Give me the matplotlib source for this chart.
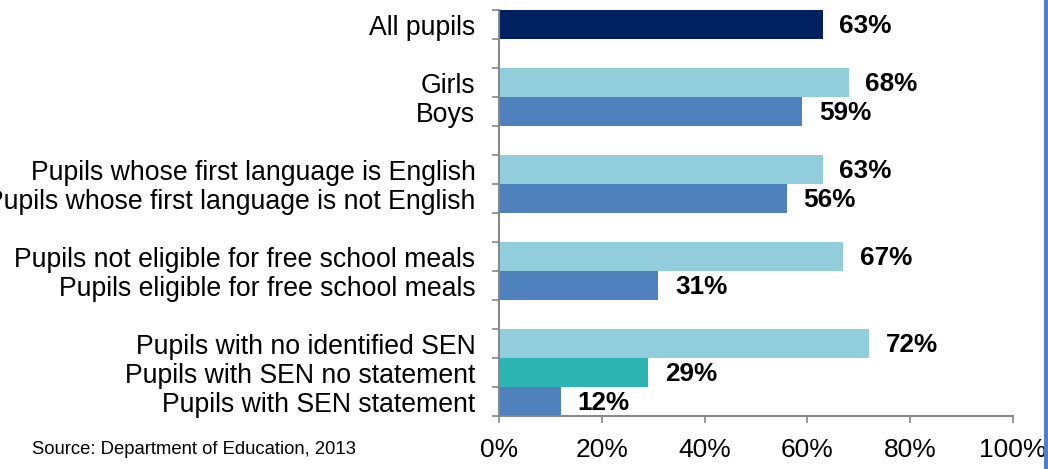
import matplotlib.pyplot as plt
from matplotlib.lines import Line2D

plt.rcParams["font.family"] = ["Liberation Sans", "DejaVu Sans"]

# -------------------- data --------------------
labels = ["All pupils", "",
          "Girls", "Boys", "",
          "Pupils whose first language is English",
          "Pupils whose first language is not English", "",
          "Pupils not eligible for free school meals",
          "Pupils eligible for free school meals", "",
          "Pupils with no identified SEN",
          "Pupils with SEN no statement",
          "Pupils with SEN statement"]
values = [63, None, 68, 59, None, 63, 56, None, 67, 31, None, 72, 29, 12]
colors = ["#00205F", None, "#92CDDC", "#4F81BD", None, "#92CDDC", "#4F81BD", None,
          "#92CDDC", "#4F81BD", None, "#92CDDC", "#2DB5B4", "#4F81BD"]
xticks = [0, 20, 40, 60, 80, 100]

AXIS_GREY = "#868686"

# -------------------- plot --------------------
fig = plt.figure(figsize=(10.48, 4.69), dpi=100)
ax = fig.add_axes([499 / 1048, 1 - 416 / 469, 514 / 1048, 406 / 469])

pos = list(range(len(labels)))
for y, v, c in zip(pos, values, colors):
    if v is None:
        continue
    ax.barh(y, v, height=1.0, color=c, edgecolor="none")
    ax.annotate(f"{v}%", xy=(v, y + 0.05), xytext=(12, 0), textcoords="offset points",
                ha="left", va="center", fontsize=18.8, fontweight="bold", color="black")

ax.set_xlim(0, 100)
ax.set_ylim(len(labels) - 0.5, -0.5)

# tick marks at slot boundaries, labels at slot centres
ax.set_yticks([i - 0.5 for i in range(len(labels) + 1)])
ax.set_yticklabels([])
ax.set_yticks(pos, minor=True)
ax.set_yticklabels(labels, minor=True, fontsize=19.2)
ax.tick_params(axis="y", which="major", length=5, width=1.2, color=AXIS_GREY, direction="out")
ax.tick_params(axis="y", which="minor", length=0, pad=17)

ax.set_xticks(xticks)
ax.set_xticklabels([f"{t}%" for t in xticks], fontsize=19)
ax.tick_params(axis="x", length=5, width=1.2, color=AXIS_GREY, direction="out", pad=11)

for side in ["top", "right"]:
    ax.spines[side].set_visible(False)
for side in ["left", "bottom"]:
    ax.spines[side].set_color(AXIS_GREY)
    ax.spines[side].set_linewidth(1.4)

fig.text(32 / 1048, 1 - 449 / 469, "Source: Department of Education, 2013",
         fontsize=13.3, ha="left", va="center")

# blue border line on the right edge
fig.add_artist(Line2D([1045.5 / 1048, 1045.5 / 1048], [0, 1], transform=fig.transFigure,
                      color="#4F81BD", linewidth=3.6))

fig.savefig("out.png", dpi=100)
